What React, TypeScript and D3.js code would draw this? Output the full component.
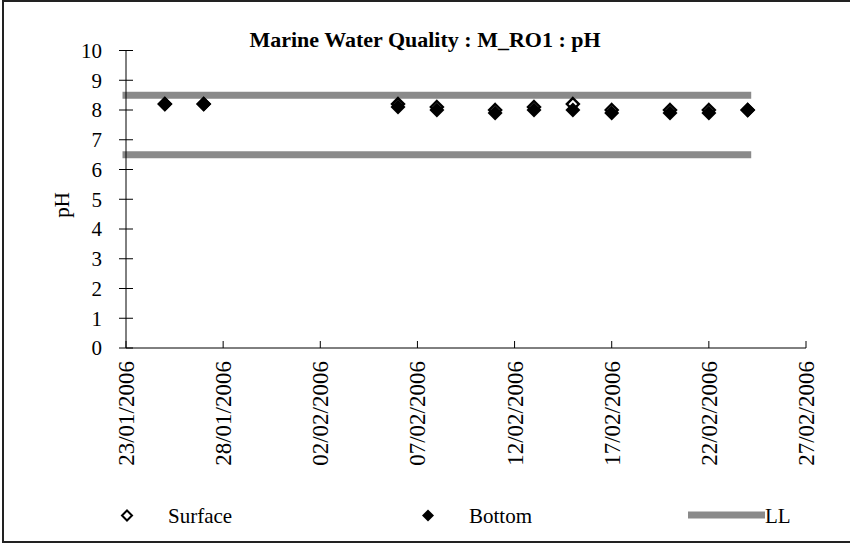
import React from "react";
import * as d3 from "d3";

// Sampling dates (dd/mm/yyyy) and pH readings at each depth
const sampleDates = [
  "25/01/2006", "27/01/2006", "06/02/2006", "08/02/2006", "11/02/2006",
  "13/02/2006", "15/02/2006", "17/02/2006", "20/02/2006", "22/02/2006", "24/02/2006",
];
const surfaceValues = [8.2, 8.2, 8.2, 8.1, 8.0, 8.1, 8.2, 8.0, 8.0, 8.0, 8.0];
const bottomValues = [8.2, 8.2, 8.1, 8.0, 7.9, 8.0, 8.0, 7.9, 7.9, 7.9, 8.0];

// Limit lines (upper and lower pH limits)
const limitDates = ["23/01/2006", "24/02/2006"];
const limitValues = [8.5, 6.5];

// Axis settings
const xDomain = ["23/01/2006", "27/02/2006"];
const xTickStepDays = 5;
const yTicks = [0, 1, 2, 3, 4, 5, 6, 7, 8, 9, 10];

const title = "Marine Water Quality : M_RO1 : pH";
const yTitle = "pH";
const legendLabels = ["Surface", "Bottom", "LL"];

const parse = d3.utcParse("%d/%m/%Y");
const fmt = d3.utcFormat("%d/%m/%Y");

const FONT = "'Liberation Serif', 'Times New Roman', serif";
const W = 850;
const H = 544;
const LL_COLOR = "#8a8a8a";

function diamond(cx: number, cy: number, r: number) {
  return `M${cx},${cy - r}L${cx + r},${cy}L${cx},${cy + r}L${cx - r},${cy}Z`;
}

export default function App() {
  const x = d3
    .scaleUtc()
    .domain(xDomain.map((d) => parse(d) as Date))
    .range([126, 806]);
  const y = d3.scaleLinear().domain([0, 10]).range([348, 50.5]);

  const start = parse(xDomain[0]) as Date;
  const end = parse(xDomain[1]) as Date;
  const xTickDates = d3.utcDay.range(start, d3.utcDay.offset(end, 1), xTickStepDays);

  const pts = sampleDates.map((d) => parse(d) as Date);
  const limitX = limitDates.map((d) => parse(d) as Date);
  const line = d3
    .line<[Date, number]>()
    .x((d) => x(d[0]))
    .y((d) => y(d[1]));

  const [x0, x1] = x.range();
  const [yb, yt] = y.range();

  return (
    <svg
      width={W}
      height={H}
      style={{ position: "absolute", left: 0, top: 0, background: "#fff" }}
      fontFamily={FONT}
    >
      <rect x={0} y={0} width={W} height={H} fill="#fff" />
      {/* outer frame */}
      <rect x={3} y={1} width={W + 10} height={541} fill="none" stroke="#222" strokeWidth={2} />

      <text x={425} y={47} textAnchor="middle" fontSize={22} fontWeight="bold" fill="#000">
        {title}
      </text>

      {/* limit lines */}
      {limitValues.map((v, i) => (
        <path
          key={"ll" + i}
          d={line(limitX.map((d) => [d, v] as [Date, number])) || ""}
          stroke={LL_COLOR}
          strokeWidth={7}
          strokeLinecap="square"
          fill="none"
        />
      ))}

      {/* y axis */}
      <line x1={x0} x2={x0} y1={yb} y2={yt} stroke="#000" strokeWidth={1} />
      {yTicks.map((t) => (
        <g key={"yt" + t}>
          <line x1={x0 - 7} x2={x0 + 7} y1={y(t)} y2={y(t)} stroke="#000" strokeWidth={1} />
          <text x={102} y={y(t)} dy="0.35em" textAnchor="end" fontSize={21} fill="#000">
            {t}
          </text>
        </g>
      ))}
      <text
        transform={`translate(62,205) rotate(-90)`}
        textAnchor="middle"
        dy="0.35em"
        fontSize={21}
        fill="#000"
      >
        {yTitle}
      </text>

      {/* x axis */}
      <line x1={x0} x2={x1} y1={yb} y2={yb} stroke="#000" strokeWidth={1} />
      {xTickDates.map((t) => (
        <g key={"xt" + t.getTime()}>
          <line x1={x(t)} x2={x(t)} y1={yb - 7} y2={yb} stroke="#000" strokeWidth={1} />
          <text
            transform={`translate(${x(t)},${yb + 13}) rotate(-90)`}
            textAnchor="end"
            dy="0.35em"
            fontSize={23}
            fill="#000"
          >
            {fmt(t)}
          </text>
        </g>
      ))}

      {/* surface markers (hollow) */}
      {pts.map((d, i) => (
        <path
          key={"s" + i}
          d={diamond(x(d), y(surfaceValues[i]), 6)}
          fill="#fff"
          stroke="#000"
          strokeWidth={2.4}
        />
      ))}
      {/* bottom markers (filled) */}
      {pts.map((d, i) => (
        <path
          key={"b" + i}
          d={diamond(x(d), y(bottomValues[i]), 7.5)}
          fill="#000"
          stroke="none"
        />
      ))}

      {/* legend */}
      <path d={diamond(127, 515.5, 5)} fill="#fff" stroke="#000" strokeWidth={2} />
      <text x={168} y={523} fontSize={21} fill="#000">
        {legendLabels[0]}
      </text>
      <path d={diamond(428, 515.5, 6)} fill="#000" />
      <text x={469} y={523} fontSize={21} fill="#000">
        {legendLabels[1]}
      </text>
      <line x1={688} x2={765} y1={515} y2={515} stroke={LL_COLOR} strokeWidth={7} />
      <text x={765} y={523} fontSize={21} fill="#000">
        {legendLabels[2]}
      </text>
    </svg>
  );
}
